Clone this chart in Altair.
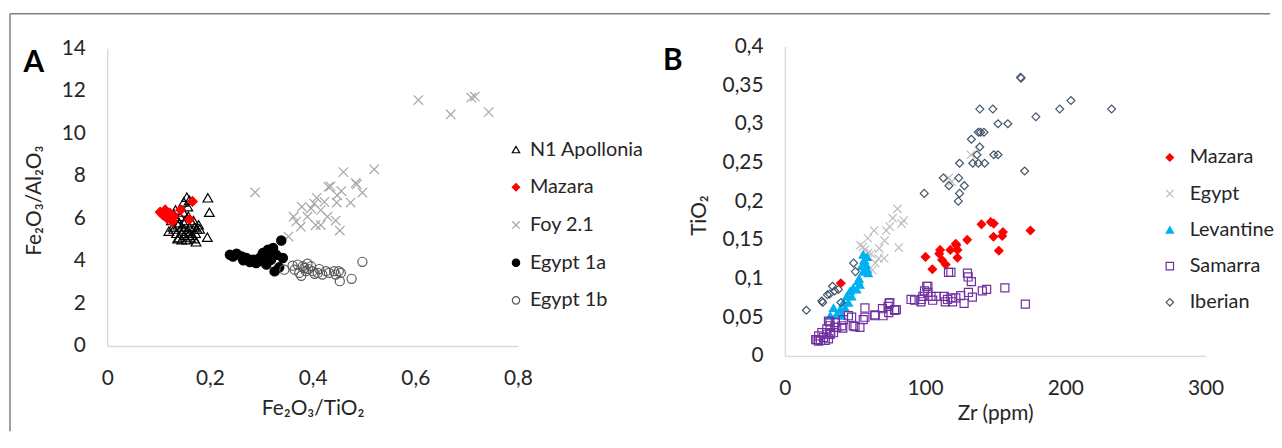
import altair as alt
import pandas as pd

# ---------------- Panel A data ----------------
A_NAMES = ["N1 Apollonia", "Mazara", "Foy 2.1", "Egypt 1a", "Egypt 1b"]

N1_X = [0.196,0.199,0.195,0.173,0.149,0.160,0.157,0.155,0.130,0.135,0.140,0.145,0.150,0.155,0.160,0.165,
        0.125,0.130,0.135,0.140,0.145,0.150,0.155,0.160,0.165,0.170,0.175,0.168,0.172,0.178,0.180,0.142,
        0.148,0.152,0.138,0.128,0.133,0.158,0.162,0.120,0.145,0.150,0.170,0.137]
N1_Y = [6.97,6.29,5.12,4.90,6.78,6.86,6.55,7.00,6.20,6.00,5.80,5.60,5.50,5.40,5.30,5.20,
        5.90,5.50,5.30,5.10,5.00,5.20,5.00,5.60,5.80,5.60,5.50,5.90,5.30,5.70,5.50,6.10,
        6.30,5.90,5.70,5.60,6.40,6.10,5.10,5.40,5.30,5.75,5.05,5.05]

MZA_X = [0.103,0.109,0.113,0.117,0.122,0.127,0.143,0.160,0.166,0.130]
MZA_Y = [6.30,6.15,6.40,6.00,6.25,5.85,6.40,5.95,6.80,6.10]

FOY_X = [0.606,0.669,0.709,0.716,0.743,0.520,0.460,0.484,0.486,0.497,0.431,0.435,0.456,0.474,0.447,0.453,
         0.445,0.408,0.403,0.379,0.397,0.416,0.423,0.363,0.368,0.377,0.406,0.416,0.353,0.390,0.429,0.448,0.288]
FOY_Y = [11.57,10.89,11.68,11.73,11.00,8.31,8.18,7.67,7.60,7.22,7.48,7.51,7.29,6.75,6.75,5.43,
         5.90,6.97,6.70,6.55,6.47,6.39,6.78,6.08,5.85,5.61,5.69,5.69,5.15,6.08,6.08,7.09,7.23]

E1A_X = [0.239,0.245,0.252,0.262,0.265,0.271,0.284,0.290,0.297,0.303,0.313,0.323,0.329,0.310,0.326,0.339,
         0.342,0.319,0.300,0.278,0.315,0.335]
E1A_Y = [4.29,4.21,4.34,4.21,4.03,4.14,4.06,3.90,4.14,4.37,4.53,4.61,4.29,3.83,3.51,4.96,
         4.14,4.06,4.00,3.95,4.20,3.70]

E1B_X = [0.345,0.361,0.371,0.381,0.390,0.397,0.374,0.387,0.400,0.410,0.419,0.432,0.442,0.451,0.453,0.476,
         0.455,0.365,0.384,0.392,0.413,0.426,0.445,0.497,0.378,0.404]
E1B_Y = [3.59,3.78,3.83,3.75,3.87,3.75,3.44,3.52,3.52,3.44,3.36,3.44,3.52,3.52,3.05,3.16,
         3.44,3.59,3.67,3.62,3.62,3.52,3.36,3.96,3.30,3.40]

# ---------------- Panel B data ----------------
B_NAMES = ["Mazara", "Egypt", "Levantine", "Samarra", "Iberian"]

MZB_X = [175.1,155.5,155.0,148.8,140.2,146.8,149.0,152.6,130.0,122.3,123.1,118.0,123.1,110.7,110.1,112.1,
         114.7,100.3,105.2,39.9,121.9]
MZB_Y = [0.162,0.160,0.155,0.154,0.170,0.173,0.171,0.136,0.150,0.143,0.137,0.137,0.127,0.137,0.132,0.124,
         0.118,0.128,0.112,0.094,0.145]

EGB_X = [116.8,132.7,80.3,76.9,84.7,83.2,63.6,72.3,59.2,71.1,53.8,55.8,67.3,81.2,61.6,66.8,70.8,64.5,62.4,
         57.0,74.8,59.4,119.0]
EGB_Y = [0.230,0.260,0.190,0.178,0.175,0.171,0.162,0.162,0.152,0.149,0.143,0.141,0.139,0.140,0.132,0.126,
         0.126,0.120,0.111,0.137,0.167,0.133,0.225]

LEV_X = [55.9,56.6,57.8,58.7,54.7,55.9,59.4,52.4,53.5,48.8,51.2,46.5,44.1,47.6,41.7,45.3,39.4,42.9,37.0,
         40.6,32.4,34.7,57.2,58.7,52.9]
LEV_Y = [0.131,0.124,0.118,0.112,0.116,0.109,0.107,0.097,0.092,0.088,0.086,0.084,0.077,0.077,0.069,0.069,
         0.060,0.062,0.054,0.052,0.052,0.062,0.120,0.128,0.100]

SAM_X = [116.7,118.4,130.2,130.7,133.0,101.2,99.6,101.9,98.4,104.2,107.8,97.2,105.4,92.5,113.7,116.0,118.4,
         121.9,125.4,127.8,130.9,133.7,114.4,119.6,140.8,143.9,156.9,171.5,74.3,73.6,69.6,78.3,74.1,64.2,
         57.1,64.2,70.0,74.8,78.3,57.1,55.9,48.8,41.7,40.6,35.9,37.0,31.1,32.3,29.9,26.4,24.1,22.9,27.6,
         32.3,31.1,28.8,34.7,25.3,30.0,45.3,47.6,53.5,90.0,97.0,102.0,79.5,50.0,41.3,35.5,32.1,32.7,24.0,22.0]
SAM_Y = [0.108,0.108,0.107,0.102,0.096,0.090,0.084,0.082,0.077,0.077,0.077,0.073,0.072,0.072,0.077,0.073,
         0.075,0.075,0.078,0.068,0.082,0.076,0.070,0.070,0.084,0.086,0.088,0.067,0.068,0.064,0.061,0.059,
         0.056,0.053,0.062,0.052,0.052,0.069,0.060,0.050,0.047,0.039,0.047,0.039,0.043,0.037,0.045,0.039,
         0.035,0.030,0.026,0.021,0.024,0.028,0.022,0.020,0.030,0.020,0.028,0.052,0.050,0.037,0.073,0.070,
         0.090,0.060,0.038,0.036,0.037,0.044,0.030,0.019,0.021]

IBE_X = [168.5,168.0,139.0,148.3,196.0,204.0,233.0,179.0,152.0,159.0,138.0,139.6,142.0,133.0,139.0,137.0,
         149.0,152.0,134.0,142.5,138.0,124.6,171.0,113.0,124.0,117.0,128.0,124.6,99.4,123.7,49.0,50.3,
         34.0,30.3,32.0,27.0,15.3,40.0,35.5,26.4,38.2]
IBE_Y = [0.359,0.360,0.319,0.319,0.319,0.330,0.319,0.309,0.300,0.300,0.289,0.289,0.289,0.280,0.270,0.260,
         0.260,0.260,0.249,0.249,0.249,0.249,0.239,0.230,0.230,0.220,0.220,0.210,0.210,0.200,0.120,0.109,
         0.090,0.079,0.080,0.069,0.059,0.069,0.084,0.071,0.086]

A_TICKS_X = [0, 0.2, 0.4, 0.6, 0.8]
A_TICKS_Y = [0, 2, 4, 6, 8, 10, 12, 14]
B_TICKS_X = [0, 100, 200, 300]
B_TICKS_Y = [0, 0.05, 0.1, 0.15, 0.2, 0.25, 0.3, 0.35, 0.4]


def build(names, series, xkey, ykey, skey):
    rows = []
    for name, (xs, ys) in zip(names, series):
        assert len(xs) == len(ys), name
        for xv, yv in zip(xs, ys):
            rows.append({xkey: xv, ykey: yv, skey: name})
    return pd.DataFrame(rows)


dfA = build(A_NAMES, [(N1_X, N1_Y), (MZA_X, MZA_Y), (FOY_X, FOY_Y), (E1A_X, E1A_Y), (E1B_X, E1B_Y)],
            "ax", "ay", "sa")
dfB = build(B_NAMES, [(MZB_X, MZB_Y), (EGB_X, EGB_Y), (LEV_X, LEV_Y), (SAM_X, SAM_Y), (IBE_X, IBE_Y)],
            "bx", "by", "sb")

FONT = "Lato"
TXT = "#262626"
CROSS = "M-1,-1L1,1M-1,1L1,-1"
WA, WB, H = 640, 630, 421

axis_common = dict(domainColor="#d9d9d9", domainWidth=1.3, ticks=False, tickSize=0, grid=False,
                   labelFont=FONT, labelFontSize=21, labelColor=TXT, labelFlush=False, labelOverlap=False,
                   titleFont=FONT, titleFontSize=21, titleColor=TXT, titleFontWeight="normal",
                   titleAlign="center", titleBaseline="middle",
                   labelExpr="replace(toString(datum.value), '.', ',')")


def legend(lx, ly, rowpad, off):
    return alt.Legend(title=None, orient="none", legendX=lx, legendY=ly, padding=0,
                      labelFont=FONT, labelFontSize=20, labelColor=TXT, labelOffset=off,
                      symbolSize=55, symbolStrokeWidth=1.2, rowPadding=rowpad)


legA = legend(500, 127, 18, 4)
legB = legend(519, 135, 16.5, 10)

A_SIZES = [100, 85, 80, 95, 85]
B_SIZES = [75, 75, 95, 72, 64]

chartA = alt.Chart(dfA).mark_point(opacity=1, strokeWidth=1.2).encode(
    x=alt.X("ax:Q", scale=alt.Scale(domain=[0, 0.8], range=[98, 512], nice=False, zero=False),
            axis=alt.Axis(orient="bottom", offset=335 - H, values=A_TICKS_X, labelPadding=22,
                          title="Fe₂O₃/TiO₂", titleX=305, titleY=63, **axis_common)),
    y=alt.Y("ay:Q", scale=alt.Scale(domain=[0, 14], range=[335, 35], nice=False, zero=False),
            axis=alt.Axis(orient="left", offset=-98, values=A_TICKS_Y, labelPadding=22,
                          title="Fe₂O₃/Al₂O₃", titleX=-73, titleY=188, titleAngle=270, **axis_common)),
    shape=alt.Shape("sa:N", scale=alt.Scale(domain=A_NAMES,
                    range=["triangle-up", "diamond", CROSS, "circle", "circle"]), legend=legA),
    fill=alt.Fill("sa:N", scale=alt.Scale(domain=A_NAMES,
                  range=["transparent", "#FF0000", "transparent", "#000000", "transparent"]), legend=legA),
    stroke=alt.Stroke("sa:N", scale=alt.Scale(domain=A_NAMES,
                      range=["#000000", "#FF0000", "#A6A6A6", "#000000", "#595959"]), legend=legA),
    size=alt.Size("sa:N", scale=alt.Scale(domain=A_NAMES[::-1], range=A_SIZES[::-1]), legend=None),
)

chartB = alt.Chart(dfB).mark_point(opacity=1, strokeWidth=1.2).encode(
    x=alt.X("bx:Q", scale=alt.Scale(domain=[0, 300], range=[141, 565], nice=False, zero=False),
            axis=alt.Axis(orient="bottom", offset=345 - H, values=B_TICKS_X, labelPadding=22,
                          title="Zr (ppm)", titleX=353, titleY=58, **axis_common)),
    y=alt.Y("by:Q", scale=alt.Scale(domain=[0, 0.4], range=[345, 33], nice=False, zero=False),
            axis=alt.Axis(orient="left", offset=-141, values=B_TICKS_Y, labelPadding=22,
                          title="TiO₂", titleX=-86, titleY=203, titleAngle=270, **axis_common)),
    shape=alt.Shape("sb:N", scale=alt.Scale(domain=B_NAMES,
                    range=["diamond", CROSS, "triangle-up", "square", "diamond"]), legend=legB),
    fill=alt.Fill("sb:N", scale=alt.Scale(domain=B_NAMES,
                  range=["#FF0000", "transparent", "#00B0F0", "transparent", "transparent"]), legend=legB),
    stroke=alt.Stroke("sb:N", scale=alt.Scale(domain=B_NAMES,
                      range=["#FF0000", "#BFBFBF", "#00B0F0", "#7030A0", "#44546A"]), legend=legB),
    size=alt.Size("sb:N", scale=alt.Scale(domain=B_NAMES[::-1], range=B_SIZES[::-1]), legend=None),
)

one = pd.DataFrame({"k": [0]})
border_top = alt.Chart(one).mark_rule(color="#7f7f7f", strokeWidth=1.5).encode(
    x=alt.value(0), x2=alt.value(WA + WB), y=alt.value(0))
border_left = alt.Chart(one).mark_rule(color="#7f7f7f", strokeWidth=1.5).encode(
    x=alt.value(0), y=alt.value(0), y2=alt.value(H))


def letter(ch, xv, yv):
    return alt.Chart(one).mark_text(font=FONT, fontSize=30, fontWeight="bold", color="#000000",
                                    align="center", baseline="middle").encode(
        x=alt.value(xv), y=alt.value(yv), text=alt.value(ch))


panelA = alt.layer(border_top, border_left, chartA, letter("A", 24, 50)).properties(width=WA, height=H)
panelB = alt.layer(chartB, letter("B", 28, 48)).properties(width=WB, height=H)

chart = alt.hconcat(panelA, panelB, spacing=0, bounds="flush").resolve_scale(
    shape="independent", fill="independent", stroke="independent", size="independent"
).resolve_legend(
    shape="independent", fill="independent", stroke="independent", size="independent"
).properties(
    padding={"left": 1, "top": 3, "right": 0, "bottom": 0}, background="white"
).configure_view(stroke=None)

chart.save("out.html", embed_options={"renderer": "svg", "actions": False})
